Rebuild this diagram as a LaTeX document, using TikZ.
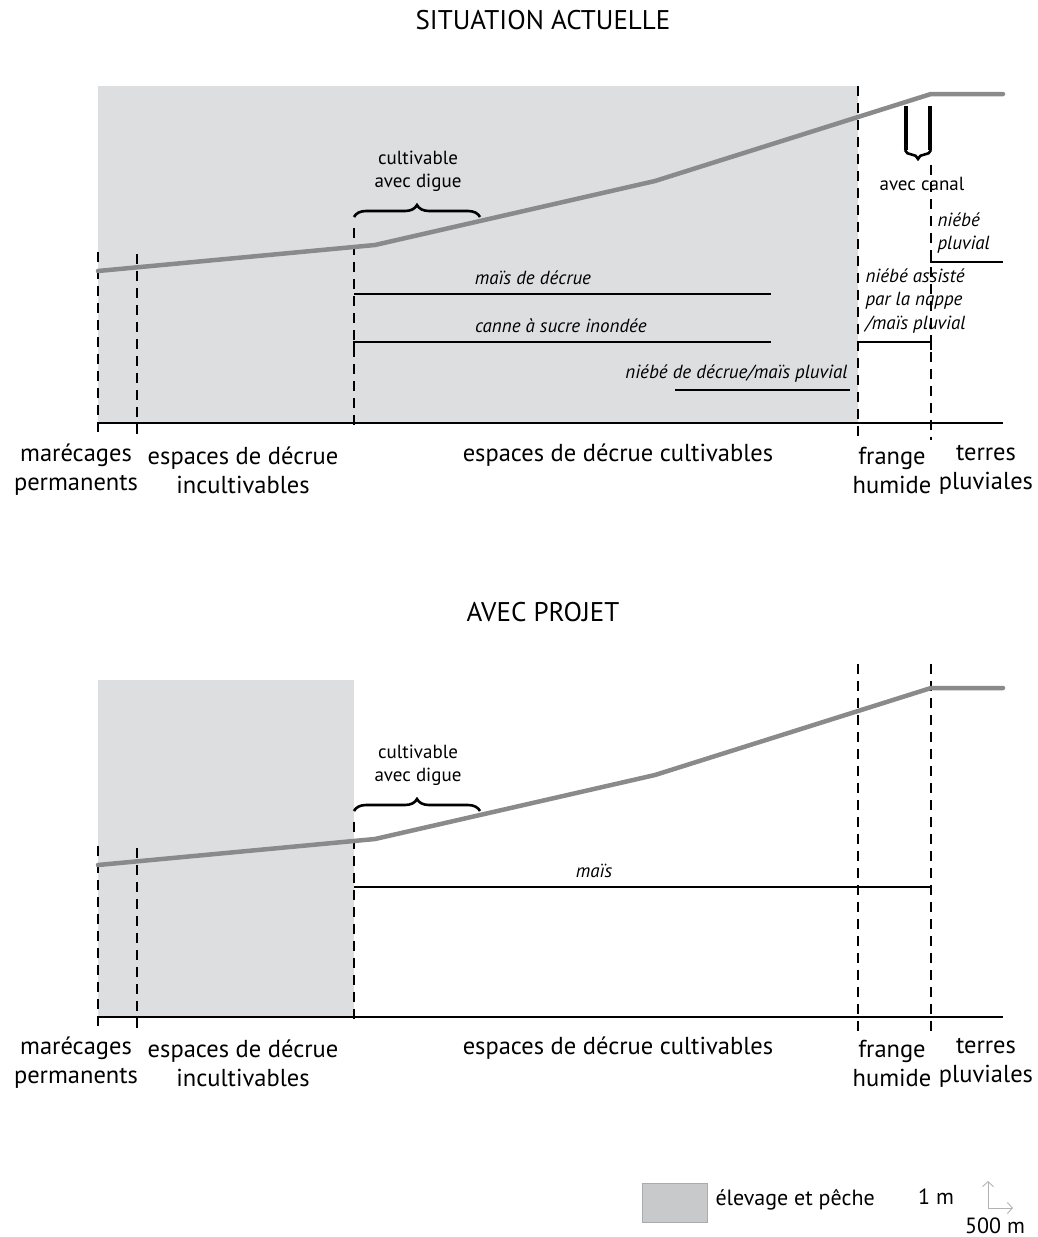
\documentclass[tikz,border=0pt]{standalone}
\usepackage{fontspec}
\setmainfont{PT Sans}
\usetikzlibrary{decorations.pathreplacing,arrows.meta}
\definecolor{fondgris}{RGB}{221,222,224}
\definecolor{legendgris}{RGB}{200,201,203}
\definecolor{terraingris}{RGB}{138,138,138}
\begin{document}
\begin{tikzpicture}[x=1pt,y=-1pt,
    zone/.style={font=\fontsize{24.5}{29}\selectfont, align=center},
    legende/.style={font=\fontsize{22}{26}\selectfont},
    titre/.style={font=\fontsize{27}{30}\selectfont},
    culture/.style={font=\fontsize{19}{23.5}\selectfont\itshape},
    petit/.style={font=\fontsize{19}{23}\selectfont, align=center},
    limite/.style={line width=1.4pt, dash pattern=on 10pt off 7pt},
    sol/.style={line width=4.5pt, terraingris, line join=round, line cap=round},
    ligne/.style={line width=1.3pt},
    accolade/.style={decorate, decoration={brace, amplitude=12pt}, line width=2.6pt}]
      \useasboundingbox (0,0) rectangle (1037,1237);
      %%%%%%%%%%%%%%%%%%%%%%%%%%%%%%%%%%%%%%%%%%%%%%%
      % situation actuelle
      \node[titre] at (543,20) (ttl1) {SITUATION ACTUELLE};
      \fill[fondgris] (98,86) rectangle (858,423);
      \draw[limite] (98,252) -- (98,433)
                    (137,254) -- (137,435)
                    (354,228) -- (354,432)
                    (858,86) -- (858,440)
                    (931,165) -- (931,440);
      \draw[sol] (98,271) -- (375,245) -- (655,181) -- (931,94) -- (1003,94);
      \draw[ligne] (98,423) -- (1003,423);
      %%%%%%%%%%%%%%%%%%%%%%%%%%%%%%%%%%%%%%%%%%%%%%%
      \draw[accolade] (354,217) -- (480,217);
      \node[petit] at (418,171) (d1) {cultivable\\avec digue};
      \draw[line width=3.2pt] (906,106) -- (906,150)
                              (930,106) -- (930,150);
      \draw[accolade, decoration={amplitude=9pt}] (931,150) -- (905,150);
      \node[petit] at (922,184) (k1) {avec canal};
      %%%%%%%%%%%%%%%%%%%%%%%%%%%%%%%%%%%%%%%%%%%%%%%
      \node[culture, align=left, anchor=west] at (934,233) (c1) {niébé\\pluvial};
      \draw[ligne] (931,250) |- (1003,262);
      \node[culture] at (533,278) (c2) {maïs de décrue};
      \draw[ligne] (354,294) -- (771,294);
      \node[culture] at (561,326) (c3) {canne à sucre inondée};
      \draw[ligne] (354,350) |- (771,342);
      \node[culture, anchor=east] at (851,374) (c4) {niébé de décrue/maïs pluvial};
      \draw[ligne] (675,390) -- (850,390);
      \node[culture, align=left, anchor=west] at (862,301) (c5) {niébé assisté\\par la nappe\\/maïs pluvial};
      \draw[ligne] (858,350) |- (931,342) -- (931,350);
      %%%%%%%%%%%%%%%%%%%%%%%%%%%%%%%%%%%%%%%%%%%%%%%
      \node[zone] at (76,470) (z1) {marécages\\permanents};
      \node[zone] at (243,470) (z2) {espaces de décrue\\incultivables};
      \node[zone] at (618,455) (z3) {espaces de décrue cultivables};
      \node[zone] at (892,470) (z4) {frange\\humide};
      \node[zone] at (986,470) (z5) {terres\\pluviales};
      %%%%%%%%%%%%%%%%%%%%%%%%%%%%%%%%%%%%%%%%%%%%%%%
      % avec projet
      \node[titre] at (543,612) (ttl2) {AVEC PROJET};
      \fill[fondgris] (98,680) rectangle (354,1017);
      \draw[limite] (98,846) -- (98,1027)
                    (137,848) -- (137,1029)
                    (354,822) -- (354,1026)
                    (858,664) -- (858,1032)
                    (931,664) -- (931,1032);
      \draw[sol] (98,865) -- (375,839) -- (655,775) -- (931,688) -- (1003,688);
      \draw[ligne] (98,1017) -- (1003,1017);
      %%%%%%%%%%%%%%%%%%%%%%%%%%%%%%%%%%%%%%%%%%%%%%%
      \draw[accolade] (354,811) -- (480,811);
      \node[petit] at (418,765) (d2) {cultivable\\avec digue};
      \node[culture] at (594,871) (c6) {maïs};
      \draw[ligne] (354,887) -- (931,887);
      %%%%%%%%%%%%%%%%%%%%%%%%%%%%%%%%%%%%%%%%%%%%%%%
      \node[zone] at (76,1063) (y1) {marécages\\permanents};
      \node[zone] at (243,1063) (y2) {espaces de décrue\\incultivables};
      \node[zone] at (618,1048) (y3) {espaces de décrue cultivables};
      \node[zone] at (892,1063) (y4) {frange\\humide};
      \node[zone] at (986,1063) (y5) {terres\\pluviales};
      %%%%%%%%%%%%%%%%%%%%%%%%%%%%%%%%%%%%%%%%%%%%%%%
      % legende
      \draw[legendgris!85!black, fill=legendgris, line width=0.6pt] (642,1183) rectangle (707,1222);
      \node[legende, anchor=west] at (712,1200) (lg1) {élevage et pêche};
      \node[legende] at (936,1197) (lg2) {1 m};
      \node[legende, anchor=base] at (995,1233) (lg3) {500 m};
      \draw[gray!60, line width=0.9pt, {Straight Barb[length=5pt,width=11pt]}-{Straight Barb[length=5pt,width=11pt]}] (988,1181) |- (1013,1208);
\end{tikzpicture}
\end{document}
